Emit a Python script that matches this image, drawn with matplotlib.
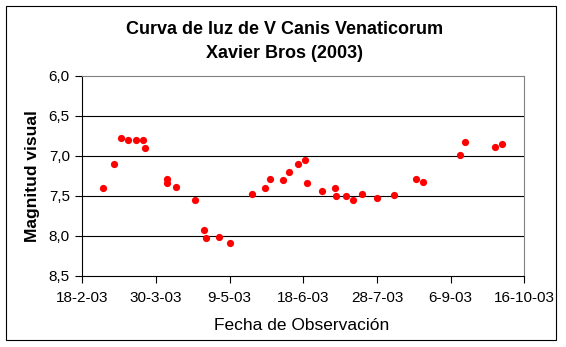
import matplotlib
matplotlib.use("Agg")
import matplotlib.pyplot as plt
import matplotlib.dates as mdates
from matplotlib.patches import Rectangle
from matplotlib.ticker import FixedLocator, FuncFormatter
import pandas as pd

# observation dates and visual magnitudes
fechas = [
    "2003-03-01", "2003-03-07", "2003-03-11", "2003-03-15", "2003-03-19",
    "2003-03-23", "2003-03-24", "2003-04-05", "2003-04-05", "2003-04-10",
    "2003-04-20", "2003-04-25", "2003-04-26", "2003-05-03", "2003-05-09",
    "2003-05-21", "2003-05-28", "2003-05-31", "2003-06-07", "2003-06-10",
    "2003-06-15", "2003-06-19", "2003-06-20", "2003-06-28", "2003-07-05",
    "2003-07-06", "2003-07-11", "2003-07-15", "2003-07-20", "2003-07-28",
    "2003-08-06", "2003-08-18", "2003-08-22", "2003-09-11", "2003-09-14",
    "2003-09-30", "2003-10-04",
]
magnitudes = [
    7.40, 7.10, 6.77, 6.80, 6.80,
    6.80, 6.90, 7.29, 7.34, 7.39,
    7.55, 7.93, 8.02, 8.01, 8.09,
    7.48, 7.40, 7.29, 7.30, 7.20,
    7.10, 7.05, 7.34, 7.44, 7.40,
    7.50, 7.50, 7.55, 7.47, 7.53,
    7.49, 7.29, 7.32, 6.99, 6.82,
    6.89, 6.85,
]
x_ticks = pd.date_range("2003-02-18", periods=7, freq="40D")
y_ticks = [6.0, 6.5, 7.0, 7.5, 8.0, 8.5]

plt.rcParams["font.family"] = ["Liberation Sans", "DejaVu Sans"]

W, H = 566, 347
fig = plt.figure(figsize=(W / 100, H / 100), dpi=100)
ax = fig.add_axes([82.3 / W, 1 - 276 / H, (524.3 - 82.3) / W, 200 / H])

dates = pd.to_datetime(fechas)
ax.plot(dates, magnitudes, "o", color="#ff0000", markersize=5.2, markeredgewidth=0, zorder=3)

ax.set_xlim(x_ticks[0], x_ticks[-1])
ax.set_ylim(8.5, 6.0)

ax.xaxis.set_major_locator(FixedLocator(mdates.date2num(x_ticks)))
ax.xaxis.set_major_formatter(FuncFormatter(
    lambda v, p: (lambda d: f"{d.day}-{d.month}-{d:%y}")(mdates.num2date(v))))
ax.yaxis.set_major_locator(FixedLocator(y_ticks))
ax.yaxis.set_major_formatter(FuncFormatter(lambda v, p: f"{v:.1f}".replace(".", ",")))

ax.tick_params(direction="out", length=5, width=0.8, color="black",
               labelsize=11, pad=4)
ax.tick_params(axis="x", pad=6)

for v in y_ticks[1:-1]:
    ax.axhline(v, color="black", linewidth=0.8, zorder=1)

for s in ["top", "right"]:
    ax.spines[s].set_color("#808080")
    ax.spines[s].set_linewidth(0.8)
for s in ["left", "bottom"]:
    ax.spines[s].set_color("black")
    ax.spines[s].set_linewidth(0.8)

fig.text(0.503, 1 - 30 / H, "Curva de luz de V Canis Venaticorum",
         ha="center", va="center", fontsize=13, fontweight="bold")
fig.text(0.503, 1 - 54 / H, "Xavier Bros (2003)",
         ha="center", va="center", fontsize=13, fontweight="bold")
fig.text(33 / W, 1 - 176 / H, "Magnitud visual", rotation=90,
         ha="center", va="center", fontsize=12.5, fontweight="bold")
fig.text(302 / W, 1 - 326 / H, "Fecha de Observación",
         ha="center", va="center", fontsize=12.5)

fig.patches.append(Rectangle((6 / W, 1 - 340 / H), 550 / W, 334 / H,
                             transform=fig.transFigure, fill=False,
                             edgecolor="black", linewidth=0.8))

fig.savefig("out.png", dpi=100)
